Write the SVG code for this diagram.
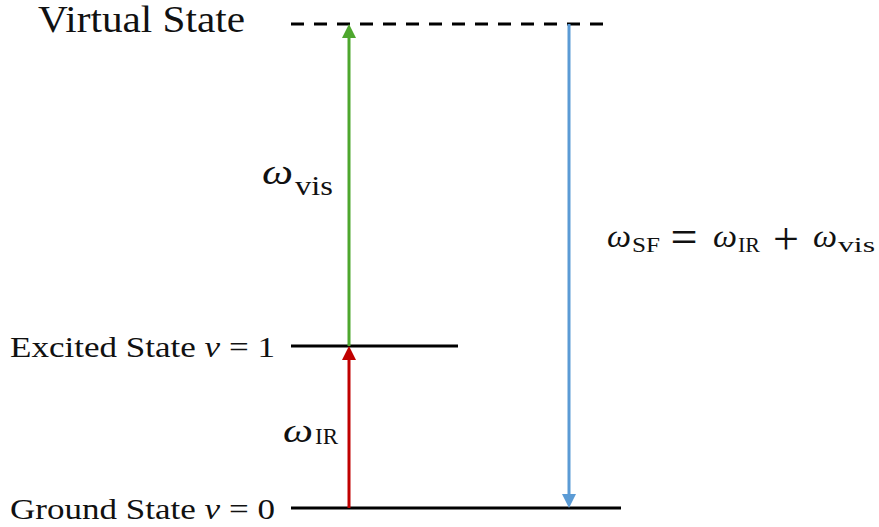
<svg xmlns="http://www.w3.org/2000/svg" width="879" height="527" viewBox="0 0 879 527">
<style>
.lvl{stroke:#000;stroke-width:3;fill:none}
.t{font-family:"Liberation Serif","DejaVu Serif",serif;fill:#111}
.i{font-style:italic}
.op{font-family:"Liberation Serif","DejaVu Serif",serif;fill:#111;text-anchor:middle}
</style>
<rect width="879" height="527" fill="#fff"/>
<g id="virtual-state">
<line class="lvl" x1="291" y1="24" x2="611" y2="24" stroke-dasharray="13,10"/>
<text class="t" x="38" y="32" font-size="37" textLength="207" lengthAdjust="spacingAndGlyphs">Virtual State</text>
</g>
<g id="excited-state">
<line class="lvl" x1="291" y1="346" x2="458" y2="346"/>
<text class="t" x="10" y="357" font-size="29" textLength="265" lengthAdjust="spacingAndGlyphs">Excited State <tspan class="i">v</tspan> = 1</text>
</g>
<g id="ground-state">
<line class="lvl" x1="291" y1="508" x2="621" y2="508"/>
<text class="t" x="10" y="519" font-size="29" textLength="265" lengthAdjust="spacingAndGlyphs">Ground State <tspan class="i">v</tspan> = 0</text>
</g>
<g id="connectors">
<line x1="349" y1="346" x2="349" y2="37" stroke="#4ea72e" stroke-width="3"/>
<polygon points="349,24 342,38 356,38" fill="#4ea72e"/>
<line x1="349" y1="508" x2="349" y2="359" stroke="#c00000" stroke-width="3"/>
<polygon points="349,346 342,360 356,360" fill="#c00000"/>
<line x1="569" y1="24" x2="569" y2="496" stroke="#5b9bd5" stroke-width="3"/>
<polygon points="569,508 562,494 576,494" fill="#5b9bd5"/>
</g>
<g id="labels">
<text class="t i" x="262" y="184" font-size="36" textLength="31" lengthAdjust="spacingAndGlyphs">ω</text>
<text class="t" x="295" y="195" font-size="27" textLength="38" lengthAdjust="spacingAndGlyphs">vis</text>
<text class="t i" x="283" y="442" font-size="34" textLength="30" lengthAdjust="spacingAndGlyphs">ω</text>
<text class="t" x="315" y="444" font-size="23" textLength="23" lengthAdjust="spacingAndGlyphs">IR</text>
<text class="t i" x="607" y="247" font-size="32" textLength="24" lengthAdjust="spacingAndGlyphs">ω</text>
<text class="t" x="632" y="252" font-size="22" textLength="28" lengthAdjust="spacingAndGlyphs">SF</text>
<text class="op" x="684" y="253" font-size="48">=</text>
<text class="t i" x="713" y="247" font-size="32" textLength="24" lengthAdjust="spacingAndGlyphs">ω</text>
<text class="t" x="738" y="252" font-size="22" textLength="22" lengthAdjust="spacingAndGlyphs">IR</text>
<text class="op" x="786" y="254" font-size="46">+</text>
<text class="t i" x="813" y="247" font-size="32" textLength="24" lengthAdjust="spacingAndGlyphs">ω</text>
<text class="t" x="838" y="252" font-size="22" textLength="37" lengthAdjust="spacingAndGlyphs">vis</text>
</g>
</svg>
